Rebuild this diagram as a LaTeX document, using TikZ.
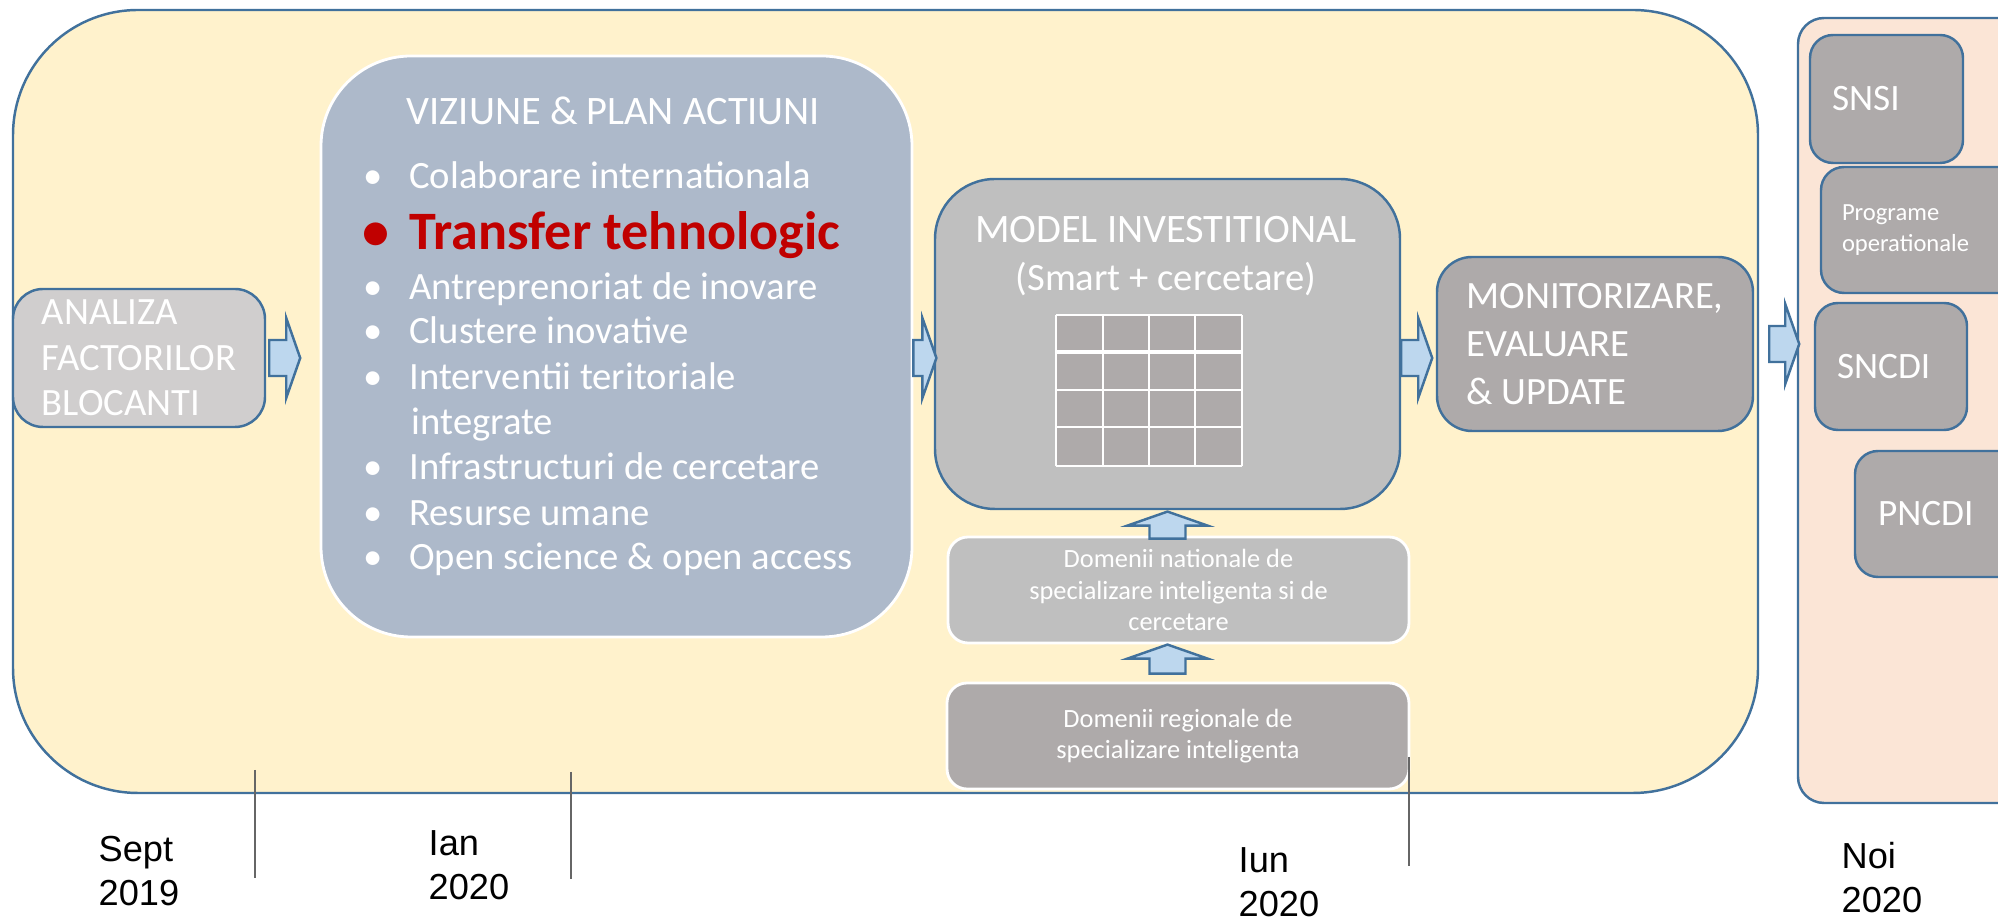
\documentclass[tikz,border=0pt]{standalone}
\usepackage{fontspec}
\setmainfont{Carlito}
\newfontfamily\datefont{Liberation Sans}
\usepackage{tikz}
\usetikzlibrary{positioning, calc}
\definecolor{edgeblue}{HTML}{41719C}
\definecolor{paleyellow}{HTML}{FFF2CC}
\definecolor{palepink}{HTML}{FBE5D6}
\definecolor{vizblue}{HTML}{ADB9CA}
\definecolor{boxlight}{HTML}{D0CECE}
\definecolor{boxmid}{HTML}{BFBFBF}
\definecolor{boxdark}{HTML}{AEAAAA}
\definecolor{arrowfill}{HTML}{BDD7EE}
\definecolor{hotred}{HTML}{C00000}

\begin{document}
\begin{tikzpicture}[x=0.1mm, y=-0.1mm,
    panel/.style={rectangle, draw=edgeblue, line width=0.7pt, fill=#1, inner sep=0pt},
    graybox/.style={rectangle, draw=edgeblue, line width=0.7pt, fill=#1, text=white, inner sep=0pt, font=\fontsize{11}{13}\selectfont},
    softbox/.style={rectangle, draw=white, line width=0.8pt, fill=#1, text=white, inner sep=0pt},
    wtext/.style={text=white, inner sep=0pt, anchor=west, text height=7.1pt, text depth=0pt},
    item/.style={wtext, font=\fontsize{11}{13}\selectfont},
    datetext/.style={font=\datefont\fontsize{10.3}{12.5}\selectfont, align=left, anchor=north west, inner sep=0pt},
    timeline/.style={draw=gray!80!black, line width=0.4pt},
    arrowbody/.style={draw=edgeblue, line width=0.7pt, fill=arrowfill, line join=miter},
    pics/fatarrow/.style={code={\draw[arrowbody] (0,-18) -- (#1-14,-18) -- (#1-14,-40) -- (#1,0) -- (#1-14,40) -- (#1-14,18) -- (0,18) -- cycle;}},
]
\useasboundingbox (0,0) rectangle (1998,921);
\clip (0,0) rectangle (1998,921);

% panels
\node[panel=paleyellow, rounded corners=12.5mm, minimum width=174.5mm, minimum height=78.3mm] (yellow) at (885.5,401.5) {};
\node[panel=palepink, rounded corners=2.6mm, minimum width=26mm, minimum height=78.5mm] (pink) at (1928,410.5) {};

% analysis
\node[graybox=boxlight, rounded corners=3mm, minimum width=25.2mm, minimum height=13.8mm, align=left, font=\fontsize{11}{12.9}\selectfont] (analiza) at (139,358) {ANALIZA\\FACTORILOR\\BLOCANTI};

% vision & action plan
\node[softbox=vizblue, rounded corners=9mm, minimum width=59.1mm, minimum height=58.1mm] (viz) at (616.5,346.5) {};
\node[wtext, anchor=center, font=\fontsize{11.5}{13}\selectfont] (viztitle) at (613.5,112) {VIZIUNE \& PLAN ACTIUNI};
\foreach \y/\t in {176/Colaborare internationala, 287/Antreprenoriat de inovare, 331/Clustere inovative, 377/Interventii teritoriale, 467/Infrastructuri de cercetare, 513/Resurse umane, 557/Open science \& open access} {
    \node[item] (item\y) at (363,\y) {\makebox[13pt][l]{\textbullet}\t};
}
\node[item] (integrate) at (411,422) {integrate};
\node[item, text=hotred, text height=9.9pt, font=\bfseries\fontsize{15.4}{18}\selectfont] (transfer) at (362,232) {\makebox[13.4pt][l]{\textbullet}Transfer tehnologic};

% investment model
\node[graybox=boxmid, rounded corners=6mm, minimum width=46.5mm, minimum height=33mm] (model) at (1167.5,344) {};
\node[wtext, anchor=center, text height=7.4pt, font=\fontsize{11.5}{13}\selectfont] (modeltitle) at (1166,230) {MODEL INVESTITIONAL};
\node[wtext, anchor=center, font=\fontsize{11}{13}\selectfont] (modelsub) at (1166,278) {(Smart + cercetare)};
\fill[boxdark] (1056,315) rectangle (1242,466);
\foreach \x in {1056,1103,1149,1195,1242} {
    \draw[white, line width=0.6pt] (\x,315) -- (\x,466);
}
\foreach \y in {315,390,427,466} {
    \draw[white, line width=0.6pt] (1056,\y) -- (1242,\y);
}
\draw[white, line width=1.4pt] (1056,352) -- (1242,352);

% domains
\node[softbox=boxmid, rounded corners=2mm, minimum width=46.1mm, minimum height=10.6mm, align=center, font=\fontsize{7.5}{9}\selectfont] (national) at (1178.5,590) {Domenii nationale de\\specializare inteligenta si de\\cercetare};
\node[softbox=boxdark, rounded corners=2mm, minimum width=46.2mm, minimum height=10.6mm, align=center, font=\fontsize{7.5}{9}\selectfont] (regional) at (1178,736) {Domenii regionale de\\specializare inteligenta};

% monitoring
\node[graybox=boxdark, rounded corners=3.5mm, minimum width=31.6mm, minimum height=17.4mm, align=left, font=\fontsize{11}{13.7}\selectfont] (monitor) at (1595,344) {MONITORIZARE,\\EVALUARE\\\& UPDATE};

% strategies
\node[graybox=boxdark, rounded corners=2.3mm, text width=10.9mm, inner xsep=2.2mm, minimum height=12.8mm, align=left, font=\fontsize{10.6}{12}\selectfont] (snsi) at (1886.5,99) {SNSI};
\node[graybox=boxdark, rounded corners=2.3mm, text width=17.7mm, inner xsep=2.1mm, minimum height=12.6mm, align=left, font=\fontsize{7}{9}\selectfont] (progr) at (1930.5,230) {Programe\\operationale};
\node[graybox=boxdark, rounded corners=2.3mm, text width=10.8mm, inner xsep=2.2mm, minimum height=12.7mm, align=left, font=\fontsize{10.6}{12}\selectfont] (sncdi) at (1891,366.5) {SNCDI};
\node[graybox=boxdark, rounded corners=2.3mm, text width=15.9mm, inner xsep=2.3mm, minimum height=12.6mm, align=left, font=\fontsize{10.6}{12}\selectfont] (pncdi) at (1957.5,514) {PNCDI};

% block arrows
\pic at ([xshift=0.3mm]analiza.east) {fatarrow=31};
\pic at (viz.east |- analiza.east) {fatarrow=23};
\pic at (model.east |- analiza.east) {fatarrow=31};
\pic at ([xshift=1mm]yellow.east |- monitor.east) {fatarrow=30};
\pic[rotate=90] at ([yshift=-0.3mm]model.south |- national.north) {fatarrow=27};
\pic[rotate=90] at ([yshift=0.8mm]model.south |- regional.north) {fatarrow=29};

% timeline
\foreach \x/\a/\b in {255/770/878, 571/772/879, 1409/757/866} {
    \draw[timeline] (\x,\a) -- (\x,\b);
}
\node[datetext] (sept) at (98,836) {Sept\\2019};
\node[datetext] (ian) at (428,830) {Ian\\2020};
\node[datetext] (iun) at (1238,847) {Iun\\2020};
\node[datetext] (noi) at (1841,842) {Noi\\2020};

\end{tikzpicture}
\end{document}
